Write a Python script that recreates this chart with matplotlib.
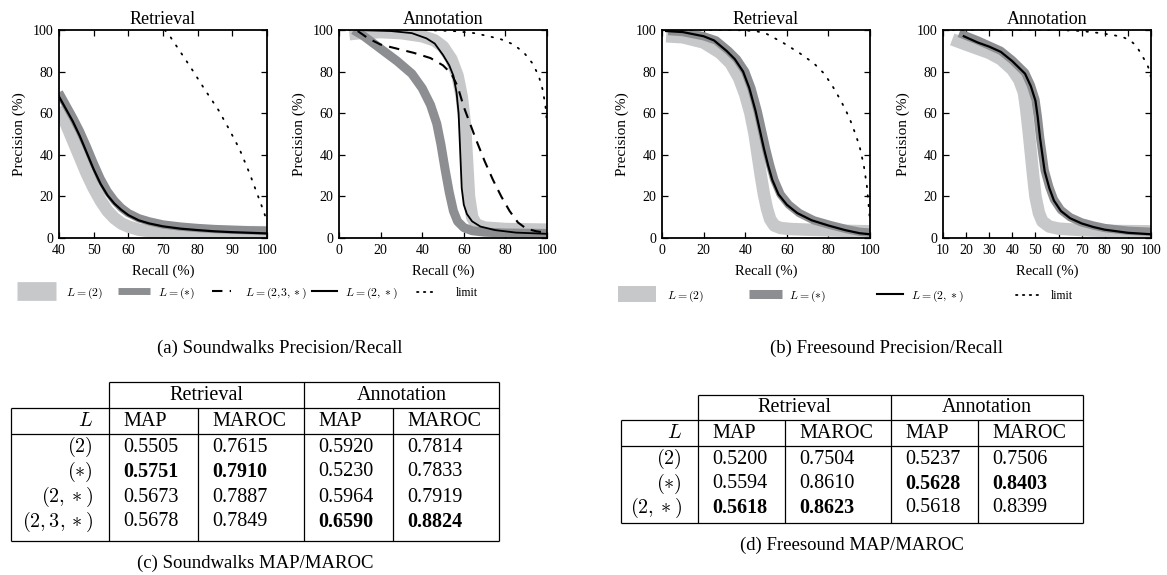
import matplotlib
matplotlib.use("Agg")
import matplotlib.pyplot as plt
from matplotlib.lines import Line2D

plt.rcParams['font.family'] = ['Liberation Serif', 'DejaVu Serif']
plt.rcParams['mathtext.fontset'] = 'cm'

# ---------------- data ----------------
# (a) Soundwalks - Retrieval
sw_ret_L2_x = [40, 42, 44, 46, 48, 50, 52, 54, 56, 58, 60, 63, 66, 70, 75, 80, 90, 100]
sw_ret_L2_y = [63, 55, 47, 39, 31, 24, 18, 13, 9.5, 7, 5.5, 4, 3.3, 3, 2.8, 2.8, 2.8, 2.8]
sw_ret_Ls_x = [40, 42, 44, 46, 48, 50, 52, 54, 56, 58, 60, 63, 66, 70, 75, 80, 85, 90, 95, 100]
sw_ret_Ls_y = [70, 64, 58, 51.5, 44, 36, 28.5, 22.5, 18, 14.5, 12, 9.5, 8, 6.5, 5.5, 4.8, 4.3, 4, 3.7, 3.5]
sw_ret_L2s_x = [40, 42, 44, 46, 48, 50, 52, 54, 56, 58, 60, 63, 66, 70, 75, 80, 85, 90, 95, 100]
sw_ret_L2s_y = [68, 62, 56, 49, 41, 33, 26, 20.5, 16.5, 13.5, 11, 8.5, 7, 5.6, 4.5, 3.8, 3.2, 2.8, 2.5, 2.2]
sw_ret_lim_x = [70.5, 72, 75, 78, 82, 86, 89, 92, 95, 97, 99, 100]
sw_ret_lim_y = [100, 97, 89.5, 82, 71.5, 61.5, 52.5, 43, 31, 22, 13, 8]

# (a) Soundwalks - Annotation
sw_ann_L2_x = [5, 10, 20, 30, 40, 46, 50, 54, 57, 59, 60.5, 61.5, 62.5, 64, 66, 70, 80, 100]
sw_ann_L2_y = [98, 98.5, 99, 98.5, 97, 95, 92, 86, 78, 68, 55, 38, 20, 10, 6.5, 5, 4.3, 4]
sw_ann_Ls_x = [7, 12, 20, 28, 35, 40, 44, 47, 49, 51, 53, 55, 57, 60, 64, 70, 80, 100]
sw_ann_Ls_y = [100, 97, 91, 85, 79, 72, 64, 55, 45, 33, 22, 13, 8, 5, 3.5, 2.8, 2.4, 2.2]
sw_ann_L23s_x = [9, 14, 20, 28, 36, 44, 50, 54, 57, 60, 63, 66, 70, 74, 78, 82, 86, 90, 95, 100]
sw_ann_L23s_y = [99.5, 96, 93, 91, 89, 86.5, 83, 79, 73, 63, 55, 47, 37, 28, 20, 13, 7.5, 4.5, 3.2, 2.5]
sw_ann_L2s_x = [8, 15, 25, 35, 42, 46, 50, 53, 55, 56.5, 57.5, 58, 58.5, 59, 60, 61.5, 64, 68, 75, 85, 100]
sw_ann_L2s_y = [100, 99.8, 99.5, 98.5, 96, 93.5, 88, 83, 78, 70, 60, 48, 36, 24, 16, 11.5, 8, 5.5, 3.8, 2.6, 2]
sw_ann_lim_x = [0, 20, 40, 55, 65, 72, 78, 84, 89, 93, 96, 98, 99.3, 100]
sw_ann_lim_y = [100, 100, 100, 99.5, 98.5, 97, 95.5, 93, 89, 84, 78, 71, 63, 55]

# (b) Freesound - Retrieval
fs_ret_L2_x = [2, 10, 20, 28, 33, 37, 40, 42.5, 44.5, 46, 47.5, 49, 50.5, 52, 54, 57, 62, 70, 80, 90, 100]
fs_ret_L2_y = [97, 96.5, 94, 89, 84, 77, 69, 60, 50, 40, 30, 21, 14, 9, 6, 4.8, 4.3, 4, 3.7, 3.4, 3.2]
fs_ret_Ls_x = [3, 10, 20, 26, 32, 36, 40, 43, 46, 48, 50, 52, 54, 57, 61, 66, 73, 81, 89, 95, 100]
fs_ret_Ls_y = [99.5, 99, 97, 95, 90, 86, 80, 72, 61, 52, 43, 35, 28, 21, 16, 12, 8.5, 6.2, 4.2, 3, 2.6]
fs_ret_L2s_x = [2, 10, 20, 25, 31, 35, 39, 42, 45, 47, 49, 51, 53, 56, 60, 65, 72, 80, 88, 95, 100]
fs_ret_L2s_y = [99.5, 99, 97, 95, 90, 86, 80, 72, 61, 52, 43, 35, 28, 21, 16, 12, 8.5, 6, 3.8, 2.3, 1.8]
fs_ret_lim_x = [0, 20, 35, 45, 50, 58, 66, 73, 78, 82, 86, 90, 93, 95, 97, 98.5, 99.5, 100]
fs_ret_lim_y = [100, 100, 100, 99.5, 98.3, 94, 89, 84, 79, 73, 66, 58, 50, 44, 35, 25, 14, 8]

# (b) Freesound - Annotation
fs_ann_L2_x = [14, 20, 25, 30, 35, 40, 43, 45, 46, 47, 48, 49, 50, 51.5, 53, 56, 60, 70, 80, 100]
fs_ann_L2_y = [95.5, 93, 91, 89, 86, 81, 76, 70, 62, 52, 41, 30, 20, 12, 8, 5.5, 4.5, 3.8, 3.4, 3.2]
fs_ann_Ls_x = [17, 25, 30, 35, 40, 45.5, 48, 50, 51, 52, 53, 54, 56, 58, 61, 65, 70, 75, 80, 90, 100]
fs_ann_Ls_y = [98.5, 95, 92.5, 90, 85.5, 79.5, 73.5, 66.5, 58.5, 48.5, 40.5, 32.5, 24.5, 18.5, 13.5, 10, 7.5, 6, 4.8, 3.5, 3]
fs_ann_L2s_x = [19, 25, 30, 35, 40, 45.5, 48, 50, 51, 52, 53, 54, 56, 58, 61, 65, 70, 75, 80, 90, 100]
fs_ann_L2s_y = [97, 94, 92, 89.5, 85, 79, 73, 66, 58, 48, 40, 32, 24, 18, 13, 9.5, 7, 5.3, 4, 2.5, 1.8]
fs_ann_lim_x = [10, 40, 60, 70, 78, 84, 88, 91, 93.5, 95.5, 97, 98.5, 99.5, 100]
fs_ann_lim_y = [100, 100, 100, 99.5, 98.5, 97.5, 96.5, 95, 92.5, 89, 86, 83, 80, 77]

# tables
tab_metrics = ['MAP', 'MAROC', 'MAP', 'MAROC']
tab_groups = ['Retrieval', 'Annotation']
sw_rows = [r'$(2)$', r'$(\ast)$', r'$(2,\ast)$', r'$(2,3,\ast)$']
sw_vals = [['0.5505', '0.7615', '0.5920', '0.7814'],
           ['0.5751', '0.7910', '0.5230', '0.7833'],
           ['0.5673', '0.7887', '0.5964', '0.7919'],
           ['0.5678', '0.7849', '0.6590', '0.8824']]
sw_bold = [[0, 0, 0, 0], [1, 1, 0, 0], [0, 0, 0, 0], [0, 0, 1, 1]]
fs_rows = [r'$(2)$', r'$(\ast)$', r'$(2,\ast)$']
fs_vals = [['0.5200', '0.7504', '0.5237', '0.7506'],
           ['0.5594', '0.8610', '0.5628', '0.8403'],
           ['0.5618', '0.8623', '0.5618', '0.8399']]
fs_bold = [[0, 0, 0, 0], [0, 0, 1, 1], [1, 1, 0, 0]]

# ---------------- styling ----------------
W, H = 1167, 575
LIGHT = '#c7c8ca'
DARK = '#8d8e91'
fig = plt.figure(figsize=(W / 100, H / 100), dpi=100)

ov = fig.add_axes([0, 0, 1, 1])
ov.set_xlim(0, W)
ov.set_ylim(H, 0)
ov.axis('off')


def px_ax(left, top, w=208, h=208):
    return fig.add_axes([left / W, 1 - (top + h) / H, w / W, h / H])


def style_ax(ax, title, xlim, xticks):
    ax.set_xlim(*xlim)
    ax.set_ylim(0, 100)
    ax.set_xticks(list(xticks))
    ax.set_yticks(list(range(0, 101, 20)))
    ax.tick_params(direction='in', top=True, right=True, length=4.5, width=0.9,
                   labelsize=10, pad=4)
    for s in ax.spines.values():
        s.set_linewidth(1.3)
    ax.set_title(title, fontsize=13, pad=4)
    ax.set_xlabel('Recall (%)', fontsize=10.5, labelpad=6)
    ax.set_ylabel('Precision (%)', fontsize=11, labelpad=5)


def band(ax, x, y, color, lw):
    ax.plot(x, y, color=color, lw=lw, solid_capstyle='butt', solid_joinstyle='round')


def limit(ax, x, y):
    ax.plot(x, y, color='black', lw=1.3, linestyle=(0, (0.8, 4.5)), dash_capstyle='round')


# Panel 1
ax1 = px_ax(59, 30)
band(ax1, sw_ret_L2_x, sw_ret_L2_y, LIGHT, 9)
band(ax1, sw_ret_Ls_x, sw_ret_Ls_y, DARK, 6)
ax1.plot(sw_ret_L2s_x, sw_ret_L2s_y, color='black', lw=1.6)
limit(ax1, sw_ret_lim_x, sw_ret_lim_y)
style_ax(ax1, 'Retrieval', (40, 100), range(40, 101, 10))

# Panel 2
ax2 = px_ax(339, 30)
band(ax2, sw_ann_L2_x, sw_ann_L2_y, LIGHT, 9)
band(ax2, sw_ann_Ls_x, sw_ann_Ls_y, DARK, 6.5)
ax2.plot(sw_ann_L23s_x, sw_ann_L23s_y, color='black', lw=1.5, linestyle=(0, (5, 3.5)))
ax2.plot(sw_ann_L2s_x, sw_ann_L2s_y, color='black', lw=1.3)
limit(ax2, sw_ann_lim_x, sw_ann_lim_y)
style_ax(ax2, 'Annotation', (0, 100), range(0, 101, 20))

# Panel 3
ax3 = px_ax(662, 30)
band(ax3, fs_ret_L2_x, fs_ret_L2_y, LIGHT, 9)
band(ax3, fs_ret_Ls_x, fs_ret_Ls_y, DARK, 6)
ax3.plot(fs_ret_L2s_x, fs_ret_L2s_y, color='black', lw=1.6)
limit(ax3, fs_ret_lim_x, fs_ret_lim_y)
style_ax(ax3, 'Retrieval', (0, 100), range(0, 101, 20))

# Panel 4
ax4 = px_ax(943, 30)
band(ax4, fs_ann_L2_x, fs_ann_L2_y, LIGHT, 9)
band(ax4, fs_ann_Ls_x, fs_ann_Ls_y, DARK, 6)
ax4.plot(fs_ann_L2s_x, fs_ann_L2s_y, color='black', lw=1.6)
limit(ax4, fs_ann_lim_x, fs_ann_lim_y)
style_ax(ax4, 'Annotation', (10, 100), range(10, 101, 10))

# ---------------- legends ----------------
LEG_FS = 8.5
fs_px = LEG_FS * 100 / 72


def leg_item(handle, label, x, y, length, gap):
    fig.legend(handles=[handle], labels=[label], loc='center left',
               bbox_to_anchor=(x / W, 1 - y / H), frameon=False,
               handlelength=length / fs_px, handletextpad=gap / fs_px,
               borderpad=0, borderaxespad=0, fontsize=LEG_FS)


h_light = Line2D([], [], color=LIGHT, lw=13.5, solid_capstyle='butt')
h_dark = Line2D([], [], color=DARK, lw=5, solid_capstyle='butt')
h_dash = Line2D([], [], color='black', lw=1.5, linestyle=(0, (5, 3.5)))
h_solid = Line2D([], [], color='black', lw=1.5)
h_dot = Line2D([], [], color='black', lw=1.3, linestyle=(0, (0.8, 3)), dash_capstyle='round')

lab_L2 = r'$L=(2)$'
lab_Ls = r'$L=(\ast)$'
lab_L23s = r'$L=(2{,}3,\ast)$'
lab_L2s = r'$L=(2,\ast)$'

ya = 293
leg_item(h_light, lab_L2, 17, ya, 39, 10)
leg_item(h_dark, lab_Ls, 118, ya, 32, 8)
leg_item(h_dash, lab_L23s, 212, ya, 19, 14)
leg_item(h_solid, lab_L2s, 312, ya, 25, 8)
leg_item(h_dot, 'limit', 417, ya, 19, 20)

h_light_b = Line2D([], [], color=LIGHT, lw=11.5, solid_capstyle='butt')
h_dark_b = Line2D([], [], color=DARK, lw=6.5, solid_capstyle='butt')
yb = 296
leg_item(h_light_b, lab_L2, 618, yb, 38, 11)
leg_item(h_dark_b, lab_Ls, 749, yb, 33, 7)
leg_item(h_solid, lab_L2s, 877, yb, 26, 8)
leg_item(h_dot, 'limit', 1016, yb, 23, 12)

# ---------------- captions ----------------
CAP_FS = 13.5
fig.text(280 / W, 1 - 348 / H, '(a) Soundwalks Precision/Recall', ha='center', va='center', fontsize=CAP_FS)
fig.text(886 / W, 1 - 348 / H, '(b) Freesound Precision/Recall', ha='center', va='center', fontsize=CAP_FS)
fig.text(255 / W, 1 - 563 / H, '(c) Soundwalks MAP/MAROC', ha='center', va='center', fontsize=CAP_FS)
fig.text(852 / W, 1 - 545 / H, '(d) Freesound MAP/MAROC', ha='center', va='center', fontsize=CAP_FS)

# ---------------- tables ----------------
TFS = 14.5
LW_T = 0.9


def draw_table(cols, top, hdr_line, l_line, bottom, row_ys, rows, vals, bold):
    c0, c1, c2, c3, c4, c5 = cols
    ov.hlines([top], c1, c5, color='black', lw=LW_T)
    ov.hlines([hdr_line, l_line, bottom], c0, c5, color='black', lw=LW_T)
    ov.vlines([c1, c3, c5], top, bottom, color='black', lw=LW_T)
    ov.vlines([c0, c2, c4], hdr_line, bottom, color='black', lw=LW_T)
    hy = (top + hdr_line) / 2
    ov.text((c1 + c3) / 2, hy, tab_groups[0], ha='center', va='center', fontsize=TFS)
    ov.text((c3 + c5) / 2, hy, tab_groups[1], ha='center', va='center', fontsize=TFS)
    ly = (hdr_line + l_line) / 2
    ov.text(c1 - 16, ly, r'$L$', ha='right', va='center', fontsize=TFS)
    lefts = [c1, c2, c3, c4]
    for j, m in enumerate(tab_metrics):
        ov.text(lefts[j] + 14, ly, m, ha='left', va='center', fontsize=TFS)
    for i, (lab, yy) in enumerate(zip(rows, row_ys)):
        ov.text(c1 - 16, yy, lab, ha='right', va='center', fontsize=TFS)
        for j in range(4):
            ov.text(lefts[j] + 14, yy, vals[i][j], ha='left', va='center', fontsize=TFS,
                    fontweight='bold' if bold[i][j] else 'normal')


draw_table([11, 109, 198, 304, 393, 499], 382, 408, 434, 541,
           [447, 472, 497, 522], sw_rows, sw_vals, sw_bold)
draw_table([621, 698, 785, 891, 978, 1083], 395, 420, 446, 523,
           [459, 484, 508], fs_rows, fs_vals, fs_bold)

fig.savefig('out.png', dpi=100)
